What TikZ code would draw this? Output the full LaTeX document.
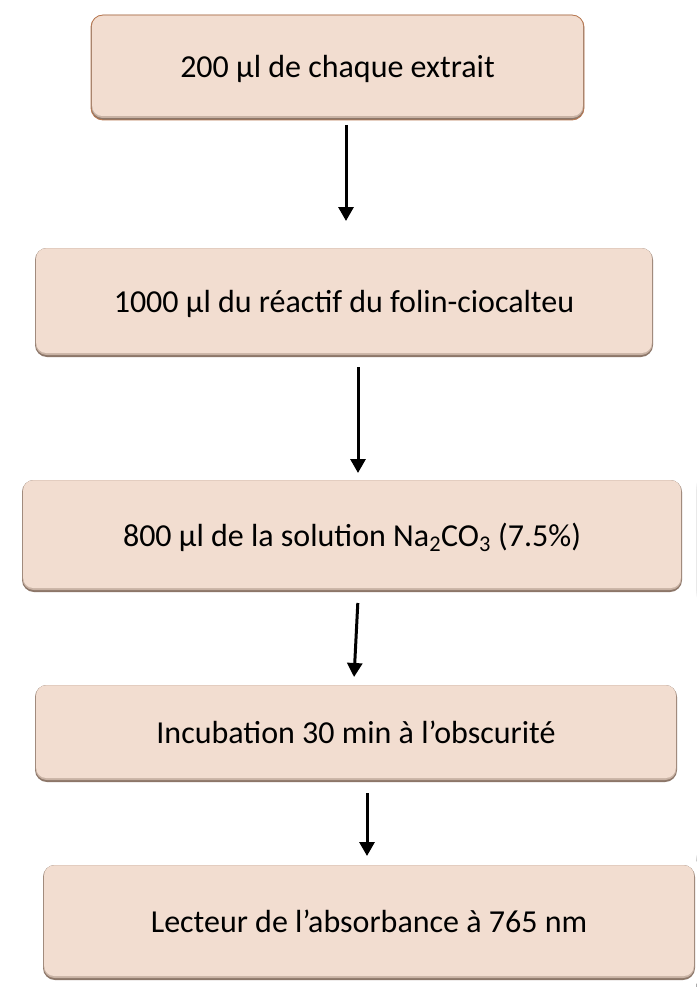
\documentclass[tikz,border=0pt]{standalone}
\usepackage{fontspec}
\setmainfont{Carlito}
\usetikzlibrary{arrows.meta,backgrounds}
\definecolor{peach}{RGB}{242,221,208}
\definecolor{bevdark}{RGB}{140,118,104}
\definecolor{bevmid}{RGB}{200,178,164}
\definecolor{boxline}{RGB}{185,120,80}
\tikzset{
  stepbox/.style={rectangle, rounded corners=15pt, fill=white, inner sep=0pt, outer sep=0pt,
    font=\fontsize{32}{38}\selectfont, text=black, text height=22pt, text depth=2pt,
    path picture={
      \fill[bevdark, rounded corners=12pt] ([shift={(7pt,-7pt)}]path picture bounding box.north west) rectangle ([shift={(-7pt,7pt)}]path picture bounding box.south east);
      \fill[bevmid, rounded corners=11pt] ([shift={(7.6pt,-7pt)}]path picture bounding box.north west) rectangle ([shift={(-7.6pt,9pt)}]path picture bounding box.south east);
      \fill[peach, rounded corners=10pt] ([shift={(8.2pt,-7.4pt)}]path picture bounding box.north west) rectangle ([shift={(-8.2pt,11pt)}]path picture bounding box.south east);
    }},
  arr/.style={line width=3pt, -{Triangle[width=15pt,length=14pt]}},
  halo/.style={black, opacity=0.045},
}
\begin{document}
\begin{tikzpicture}[x=1pt,y=1pt]
\useasboundingbox (0,0) rectangle (696,-987);
\fill[white] (0,0) rectangle (696,-987);
\node[stepbox, minimum width=507pt, minimum height=119pt] (b1) at (337.5,-67.5) {200 µl de chaque extrait};
\node[stepbox, minimum width=632pt, minimum height=123pt] (b2) at (344,-302.5) {1000 µl du réactif du folin-ciocalteu};
\node[stepbox, minimum width=674pt, minimum height=126pt] (b3) at (352,-536) {800 µl de la solution Na\textsubscript{2}CO\textsubscript{3} (7.5\%)};
\node[stepbox, minimum width=656pt, minimum height=111pt] (b4) at (356,-733.5) {Incubation 30 min à l’obscurité};
\node[stepbox, minimum width=666pt, minimum height=129pt] (b5) at (369,-922.5) {Lecteur de l’absorbance à 765 nm};
\begin{scope}[on background layer]
  \foreach \n in {b1,b2,b3,b4,b5}{
    \foreach \k in {1,...,9}{
      \fill[halo, rounded corners={15pt+\k pt}] ([shift={(-\k pt,\k pt-4pt)}]\n.north west) rectangle ([shift={(\k pt,-\k pt-4pt)}]\n.south east);
    }
  }
\end{scope}
\draw[boxline, line width=0.8pt, rounded corners=12pt] ([shift={(7pt,-7pt)}]b1.north west) rectangle ([shift={(-7pt,7pt)}]b1.south east);
\coordinate (a1) at (346,0);
\coordinate (a2) at (358,0);
\coordinate (a3s) at (358,0);
\coordinate (a3e) at (354,0);
\coordinate (a4) at (367,0);
\draw[arr, shorten <=-2pt, shorten >=20pt] (b1.south -| a1) -- (b2.north -| a1);
\draw[arr, shorten <=3pt] (b2.south -| a2) -- (b3.north -| a2);
\draw[arr, shorten <=4pt, shorten >=1pt] (b3.south -| a3s) -- (b4.north -| a3e);
\draw[arr, shorten <=4pt, shorten >=2pt] (b4.south -| a4) -- (b5.north -| a4);
\end{tikzpicture}
\end{document}
